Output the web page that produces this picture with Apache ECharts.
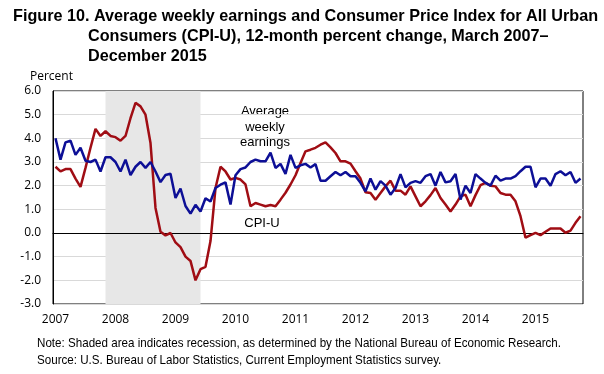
<!DOCTYPE html>
<html>
<head>
<meta charset="utf-8">
<script src="https://cdn.jsdelivr.net/npm/echarts@6/dist/echarts.min.js"></script>
<style>
html,body{margin:0;padding:0;background:#fff;}
#chart{width:604px;height:374px;}
</style>
</head>
<body>
<div id="chart"></div>
<script>
// Monthly categories: March 2007 – December 2015
const startYear = 2007, startMonth = 3, monthCount = 106;
const tickYears = ['2007','2008','2009','2010','2011','2012','2013','2014','2015'];

// 12-month percent change, average weekly earnings (blue)
const earnings = [
  4.0, 3.1, 3.83, 3.9, 3.3, 3.6, 3.05, 3.0, 3.1, 2.6,
  3.2, 3.2, 3.0, 2.6, 3.1, 2.45, 2.8, 3.0, 2.75, 3.0,
  2.6, 2.15, 2.45, 2.5, 1.48, 1.88, 1.14, 0.82, 1.19, 0.91,
  1.47, 1.33, 1.9, 2.04, 2.14, 1.2, 2.44, 2.7, 2.77, 3.0,
  3.1, 3.03, 3.03, 3.4, 2.75, 2.92, 2.5, 3.3, 2.75, 2.86,
  2.92, 2.77, 2.91, 2.21, 2.21, 2.4, 2.58, 2.44, 2.58, 2.4,
  2.4, 2.12, 1.76, 2.3, 1.83, 2.19, 2.0, 1.62, 1.9, 2.49,
  1.93, 2.12, 2.19, 2.12, 2.4, 2.49, 2.0, 2.58, 2.14, 2.19,
  2.49, 1.41, 2.0, 1.69, 2.49, 2.3, 2.12, 2.0, 2.42, 2.21,
  2.3, 2.3, 2.4, 2.61, 2.8, 2.8, 1.93, 2.3, 2.3, 2.0,
  2.49, 2.61, 2.44, 2.58, 2.12, 2.3
];

// 12-month percent change, CPI-U (red)
const cpiU = [
  2.8, 2.6, 2.7, 2.7, 2.3, 1.95, 2.75, 3.6, 4.4, 4.1,
  4.3, 4.1, 4.05, 3.9, 4.1, 4.85, 5.5, 5.35, 5.0, 3.8,
  1.06, 0.05, -0.1, 0.0, -0.4, -0.6, -1.0, -1.18, -2.0, -1.53,
  -1.43, -0.34, 1.9, 2.8, 2.6, 2.26, 2.33, 2.26, 2.05, 1.13,
  1.27, 1.2, 1.13, 1.18, 1.13, 1.41, 1.7, 2.05, 2.44, 2.96,
  3.45, 3.52, 3.6, 3.73, 3.83, 3.62, 3.38, 3.03, 3.03, 2.93,
  2.61, 2.3, 1.72, 1.69, 1.41, 1.69, 1.97, 2.21, 1.79, 1.79,
  1.62, 1.97, 1.55, 1.13, 1.34, 1.6, 1.9, 1.48, 1.2, 0.91,
  1.2, 1.55, 1.62, 1.13, 1.6, 2.02, 2.12, 2.0, 1.97, 1.69,
  1.62, 1.62, 1.34, 0.71, -0.2, -0.09, 0.01, -0.09, 0.05, 0.19,
  0.19, 0.19, 0.01, 0.1, 0.43, 0.71
];

// Recession shading (category indices)
const recessionStart = 10, recessionEnd = 29;

const categories = [];
for (let k = 0; k < monthCount; k++) {
  const m = startMonth - 1 + k;
  const y = startYear + Math.floor(m / 12);
  const mm = (m % 12) + 1;
  categories.push(y + '-' + (mm < 10 ? '0' + mm : mm));
}

const BLUE = '#0d0f96';
const RED = '#a00d14';
const NARROW = '"Liberation Sans Narrow", "Liberation Sans", sans-serif';
const AXF = '"Open Sans", sans-serif';

const chart = echarts.init(document.getElementById('chart'), null, {renderer: 'canvas'});
chart.setOption({
  animation: false,
  backgroundColor: '#fff',
  grid: {left: 53, right: 21, top: 91, bottom: 70, show: true, borderColor: '#000', borderWidth: 1, backgroundColor: 'transparent'},
  xAxis: {
    type: 'category',
    data: categories,
    boundaryGap: true,
    axisLine: {lineStyle: {color: '#000', width: 1}},
    axisTick: {inside: true, length: 4, interval: 11, lineStyle: {color: '#000'}},
    axisLabel: {
      interval: 11, margin: 10, color: '#000', fontFamily: AXF, fontSize: 12,
      formatter: function (v, i) { return tickYears[Math.round(i / 12)]; }
    },
    splitLine: {show: false}
  },
  yAxis: {
    type: 'value', min: -3, max: 6, interval: 1,
    axisLine: {show: true, lineStyle: {color: '#000', width: 1}},
    axisTick: {show: false},
    axisLabel: {margin: 12, color: '#000', fontFamily: AXF, fontSize: 12,
      formatter: function (v) { return v.toFixed(1); }},
    splitLine: {lineStyle: {color: '#d9d9d9', width: 1}}
  },
  series: [
    {
      name: 'CPI-U', type: 'line', data: cpiU, symbol: 'none', z: 3,
      lineStyle: {color: RED, width: 2.5}, itemStyle: {color: RED},
      markArea: {
        silent: true, z: 0,
        itemStyle: {color: '#e7e7e7'},
        data: [[{xAxis: recessionStart}, {xAxis: recessionEnd}]]
      }
    },
    {
      name: 'Average weekly earnings', type: 'line', data: earnings, symbol: 'none', z: 4,
      lineStyle: {color: BLUE, width: 2.5}, itemStyle: {color: BLUE}
    }
  ],
  graphic: [
    {type: 'text', left: 13, top: 9, style: {text: 'Figure 10. Average weekly earnings and Consumer Price Index for All Urban', font: 'bold 16.2px ' + NARROW, fill: '#000'}},
    {type: 'text', left: 88, top: 29, style: {text: 'Consumers (CPI-U), 12-month percent change, March 2007–', font: 'bold 16.2px ' + NARROW, fill: '#000'}},
    {type: 'text', left: 88, top: 49, style: {text: 'December 2015', font: 'bold 16.2px ' + NARROW, fill: '#000'}},
    {type: 'text', left: 30, top: 71, style: {text: 'Percent', font: '12px ' + AXF, fill: '#000'}},
    {type: 'text', x: 265, y: 111, style: {text: 'Average', font: '13px ' + NARROW, fill: '#000', align: 'center', verticalAlign: 'middle'}},
    {type: 'text', x: 265, y: 127, style: {text: 'weekly', font: '13px ' + NARROW, fill: '#000', align: 'center', verticalAlign: 'middle'}},
    {type: 'text', x: 265, y: 142, style: {text: 'earnings', font: '13px ' + NARROW, fill: '#000', align: 'center', verticalAlign: 'middle'}},
    {type: 'text', x: 262, y: 223, style: {text: 'CPI-U', font: '13px ' + NARROW, fill: '#000', align: 'center', verticalAlign: 'middle'}},
    {type: 'text', x: 37, y: 337, scaleX: 0.893, originX: 0, originY: 0, style: {text: 'Note: Shaded area indicates recession, as determined by the National Bureau of Economic Research.', font: '13px ' + NARROW, fill: '#000'}},
    {type: 'text', x: 37, y: 354, scaleX: 0.893, originX: 0, originY: 0, style: {text: 'Source: U.S. Bureau of Labor Statistics, Current Employment Statistics survey.', font: '13px ' + NARROW, fill: '#000'}}
  ]
});
</script>
</body>
</html>
